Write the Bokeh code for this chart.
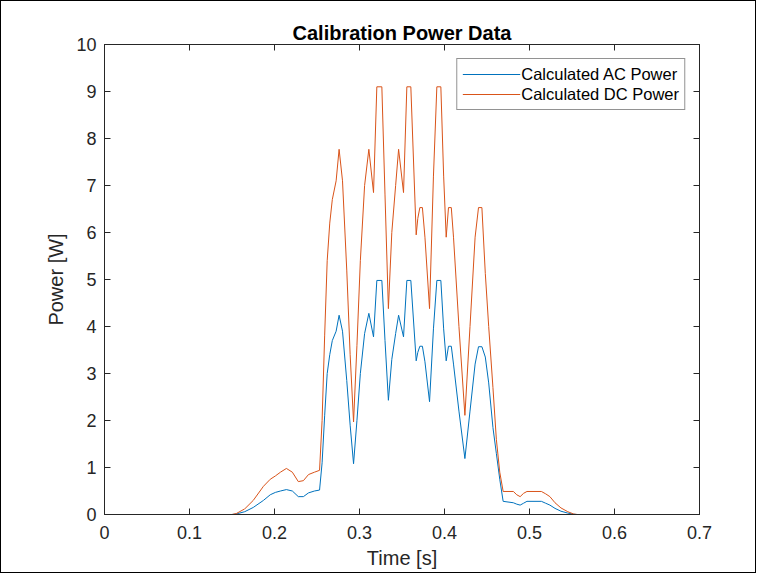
from bokeh.plotting import figure
from bokeh.models import LinearAxis, FixedTicker, Legend, LegendItem
from bokeh.embed import file_html
from bokeh.resources import INLINE

# ---- data ----
time_s = [0.000, 0.150, 0.155, 0.165, 0.175, 0.187, 0.195, 0.201, 0.207, 0.214,
          0.221, 0.228, 0.234, 0.240, 0.247, 0.253, 0.256, 0.259, 0.262, 0.265,
          0.268, 0.2725, 0.276, 0.280, 0.285, 0.289, 0.293, 0.297, 0.301, 0.306,
          0.311, 0.3165, 0.3204, 0.3263, 0.330, 0.334, 0.338, 0.3425, 0.346, 0.3518,
          0.3557, 0.3604, 0.3667, 0.3686, 0.371, 0.374, 0.377, 0.3824, 0.387, 0.391,
          0.3957, 0.399, 0.402, 0.4047, 0.408, 0.4106, 0.417, 0.424, 0.430, 0.436,
          0.440, 0.444, 0.448, 0.452, 0.457, 0.461, 0.465, 0.469, 0.481, 0.485,
          0.489, 0.493, 0.497, 0.514, 0.519, 0.524, 0.530, 0.537, 0.545, 0.552,
          0.556, 0.700]

ac_power = [0.00, 0.00, 0.01, 0.06, 0.15, 0.30, 0.42, 0.47, 0.50, 0.53,
            0.50, 0.38, 0.38, 0.46, 0.50, 0.52, 1.10, 2.10, 3.00, 3.40,
            3.70, 3.90, 4.24, 3.90, 2.85, 1.90, 1.08, 2.00, 3.00, 3.85,
            4.28, 3.78, 4.98, 4.98, 3.70, 2.43, 3.30, 3.85, 4.24, 3.78,
            4.98, 4.98, 3.27, 3.45, 3.58, 3.58, 3.25, 2.40, 3.95, 4.98,
            4.98, 3.95, 3.27, 3.58, 3.58, 3.20, 2.20, 1.19, 2.20, 3.20,
            3.57, 3.57, 3.35, 2.80, 1.85, 1.30, 0.75, 0.28, 0.25, 0.22,
            0.20, 0.24, 0.28, 0.28, 0.24, 0.20, 0.13, 0.07, 0.03, 0.005,
            0.00, 0.00]

dc_power = [0.00, 0.00, 0.02, 0.12, 0.30, 0.60, 0.75, 0.82, 0.90, 0.98,
            0.90, 0.70, 0.72, 0.85, 0.90, 0.94, 2.00, 3.80, 5.40, 6.20,
            6.70, 7.10, 7.77, 7.10, 5.20, 3.40, 1.97, 3.60, 5.40, 7.00,
            7.77, 6.85, 9.10, 9.10, 6.80, 4.38, 6.00, 7.00, 7.77, 6.85,
            9.10, 9.10, 5.95, 6.30, 6.53, 6.53, 5.90, 4.38, 7.20, 9.10,
            9.10, 7.20, 5.90, 6.53, 6.53, 5.90, 4.00, 2.11, 4.00, 5.90,
            6.53, 6.53, 5.13, 4.00, 2.70, 1.60, 0.90, 0.49, 0.49, 0.42,
            0.38, 0.45, 0.49, 0.49, 0.44, 0.38, 0.25, 0.14, 0.06, 0.01,
            0.00, 0.00]

x_ticks = [0.0, 0.1, 0.2, 0.3, 0.4, 0.5, 0.6, 0.7]
x_tick_labels = ["0", "0.1", "0.2", "0.3", "0.4", "0.5", "0.6", "0.7"]
y_ticks = [0, 1, 2, 3, 4, 5, 6, 7, 8, 9, 10]

series_names = ["Calculated AC Power", "Calculated DC Power"]
series_colors = ["#0072BD", "#D95319"]

FONT = "Liberation Sans"
AXC = "#262626"

p = figure(frame_width=595, frame_height=470,
           x_range=(0, 0.7), y_range=(0, 10),
           output_backend="svg", toolbar_location=None,
           min_border_left=103, min_border_top=43,
           min_border_right=56, min_border_bottom=58,
           title="Calibration Power Data")
p.styles = {"border": "1px solid #000000"}

p.title.align = "center"
p.title.text_font = FONT
p.title.text_font_size = "20px"
p.title.text_font_style = "bold"
p.title.text_color = "#000000"
p.title.standoff = 2

p.grid.visible = False
p.outline_line_color = AXC
p.outline_line_width = 1
p.background_fill_color = "white"
p.border_fill_color = "white"

lines = []
for vals, col in zip([ac_power, dc_power], series_colors):
    r = p.line(time_s, vals, line_color=col, line_width=1)
    lines.append(r)

# main axes
for ax in [p.xaxis[0], p.yaxis[0]]:
    ax.axis_line_color = AXC
    ax.major_tick_line_color = AXC
    ax.major_tick_in = 6
    ax.major_tick_out = 0
    ax.minor_tick_line_color = None
    ax.major_label_text_font = FONT
    ax.major_label_text_font_size = "18px"
    ax.major_label_text_color = AXC
    ax.axis_label_text_font = FONT
    ax.axis_label_text_font_size = "20px"
    ax.axis_label_text_font_style = "normal"
    ax.axis_label_text_color = AXC

p.xaxis[0].ticker = FixedTicker(ticks=x_ticks)
p.xaxis[0].major_label_overrides = dict(zip(x_ticks, x_tick_labels))
p.xaxis[0].axis_label = "Time [s]"
p.xaxis[0].major_label_standoff = 11
p.xaxis[0].axis_label_standoff = 5

p.yaxis[0].ticker = FixedTicker(ticks=y_ticks)
p.yaxis[0].axis_label = "Power [W]"
p.yaxis[0].major_label_standoff = 8
p.yaxis[0].axis_label_standoff = 6

# box ticks on top and right
top = LinearAxis(ticker=FixedTicker(ticks=x_ticks), major_label_text_font_size="0px",
                 major_tick_in=6, major_tick_out=0, major_label_standoff=0,
                 minor_tick_line_color=None, axis_line_color=AXC, major_tick_line_color=AXC)
right = LinearAxis(ticker=FixedTicker(ticks=y_ticks), major_label_text_font_size="0px",
                   major_tick_in=6, major_tick_out=0, major_label_standoff=0,
                   minor_tick_line_color=None, axis_line_color=AXC, major_tick_line_color=AXC)
p.add_layout(top, "above")
p.add_layout(right, "right")

legend = Legend(items=[LegendItem(label=n, renderers=[r]) for n, r in zip(series_names, lines)],
                location="top_right")
legend.margin = 14
legend.padding = 5
legend.spacing = 0
legend.glyph_width = 58
legend.glyph_height = 20
legend.label_height = 20
legend.label_standoff = 1
legend.label_text_font = FONT
legend.label_text_font_size = "16.5px"
legend.label_text_color = "#000000"
legend.border_line_color = AXC
legend.border_line_width = 1
legend.background_fill_alpha = 1
p.add_layout(legend, "center")

open("out.html", "w").write(file_html(p, INLINE))
